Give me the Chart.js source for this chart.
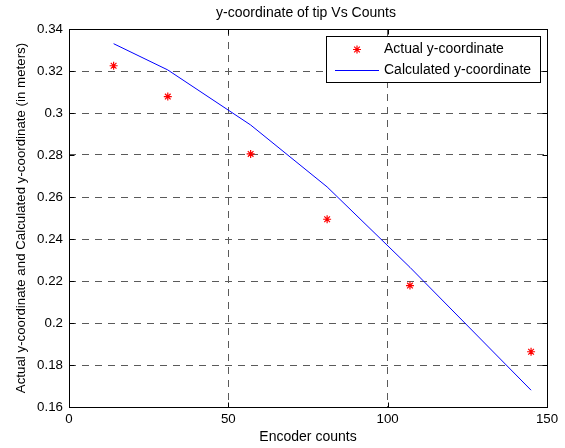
<!DOCTYPE html>
<html>
<head>
<meta charset="utf-8">
<script src="https://cdn.jsdelivr.net/npm/chart.js@4/dist/chart.umd.min.js"></script>
<style>
  html, body { margin: 0; padding: 0; background: #fff; }
  #wrap { width: 565px; height: 448px; }
</style>
</head>
<body>
<div id="wrap"><canvas id="c" width="565" height="448"></canvas></div>
<script>
// ---- data ----
const encoderCounts = [14, 31, 57, 81, 107, 145];
const actualY      = [0.3225, 0.3078, 0.2805, 0.2494, 0.2178, 0.1863];
const calculatedY  = [0.333, 0.3205, 0.2943, 0.2648, 0.2265, 0.168];
const xTickValues  = [0, 50, 100, 150];
const yTickValues  = [0.16, 0.18, 0.2, 0.22, 0.24, 0.26, 0.28, 0.3, 0.32, 0.34];
const titleText    = 'y-coordinate of tip Vs Counts';
const xLabel       = 'Encoder counts';
const yLabel       = 'Actual y-coordinate and Calculated y-coordinate (in meters)';
const seriesNames  = ['Actual y-coordinate', 'Calculated y-coordinate'];

const FONT = 'Liberation Sans, Arial, Helvetica, sans-serif';
const GRID = '#5a5a5a';

const actualPts = encoderCounts.map((x, i) => ({x, y: actualY[i]}));
const calcPts   = encoderCounts.map((x, i) => ({x, y: calculatedY[i]}));

const boxPlugin = {
  id: 'matlabBox',
  afterDatasetsDraw(chart) {
    const {ctx, chartArea: a, scales} = chart;
    ctx.save();
    ctx.strokeStyle = '#000';
    ctx.lineWidth = 1;
    ctx.setLineDash([]);
    const L = Math.round(a.left) + 0.5, R = Math.round(a.right) + 0.5;
    const T = Math.round(a.top) + 0.5, B = Math.round(a.bottom) + 0.5;
    ctx.strokeRect(L, T, R - L, B - T);
    const tl = 5;
    ctx.beginPath();
    xTickValues.forEach(v => {
      const x = Math.round(scales.x.getPixelForValue(v)) + 0.5;
      ctx.moveTo(x, B); ctx.lineTo(x, B - tl);
      ctx.moveTo(x, T); ctx.lineTo(x, T + tl);
    });
    yTickValues.forEach(v => {
      const y = Math.round(scales.y.getPixelForValue(v)) + 0.5;
      ctx.moveTo(L, y); ctx.lineTo(L + tl, y);
      ctx.moveTo(R, y); ctx.lineTo(R - tl, y);
    });
    ctx.stroke();

    // title centred over the plot area
    ctx.fillStyle = '#000';
    ctx.font = '14px ' + FONT;
    ctx.textAlign = 'center';
    ctx.textBaseline = 'middle';
    ctx.fillText(titleText, (a.left + a.right) / 2 - 2, 13);

    // legend box
    const bx = 326.5, by = 36.5, bw = 214, bh = 46;
    ctx.fillStyle = '#fff';
    ctx.fillRect(bx, by, bw, bh);
    ctx.strokeStyle = '#000';
    ctx.strokeRect(bx, by, bw, bh);
    const y1 = 49.5, y2 = 70.5;
    // star marker
    const sx = 357, r = 4;
    ctx.strokeStyle = '#ff0000';
    ctx.lineWidth = 1.2;
    ctx.beginPath();
    ctx.moveTo(sx - r, y1); ctx.lineTo(sx + r, y1);
    ctx.moveTo(sx, y1 - r); ctx.lineTo(sx, y1 + r);
    const d = r * Math.SQRT1_2;
    ctx.moveTo(sx - d, y1 - d); ctx.lineTo(sx + d, y1 + d);
    ctx.moveTo(sx - d, y1 + d); ctx.lineTo(sx + d, y1 - d);
    ctx.stroke();
    // line sample
    ctx.lineWidth = 1;
    ctx.strokeStyle = '#0000ff';
    ctx.beginPath();
    ctx.moveTo(335, y2); ctx.lineTo(379, y2);
    ctx.stroke();
    ctx.fillStyle = '#000';
    ctx.font = '14px ' + FONT;
    ctx.textBaseline = 'middle';
    ctx.textAlign = 'left';
    ctx.fillText(seriesNames[0], 384, y1);
    ctx.fillText(seriesNames[1], 384, y2);
    ctx.restore();
  }
};

new Chart(document.getElementById('c'), {
  type: 'scatter',
  data: {
    datasets: [
      {
        label: seriesNames[0],
        data: actualPts,
        showLine: false,
        pointStyle: 'star',
        radius: 4,
        borderColor: '#ff0000',
        backgroundColor: '#ff0000',
        borderWidth: 1.2,
        order: 1
      },
      {
        label: seriesNames[1],
        data: calcPts,
        showLine: true,
        borderColor: '#0000ff',
        borderWidth: 1,
        pointRadius: 0,
        fill: false,
        tension: 0,
        order: 2
      }
    ]
  },
  options: {
    responsive: false,
    animation: false,
    devicePixelRatio: 1,
    layout: { padding: { left: 0, right: 18, top: 29, bottom: 0 } },
    plugins: {
      legend: { display: false },
      tooltip: { enabled: false },
      title: { display: false }
    },
    scales: {
      x: {
        type: 'linear',
        min: 0, max: 150,
        afterBuildTicks: s => { s.ticks = xTickValues.map(v => ({value: v})); },
        afterFit: s => { s.height = 41; },
        grid: { color: GRID, lineWidth: 1, drawTicks: false },
        border: { display: false, dash: [7, 6] },
        ticks: { color: '#000', padding: 4, font: { family: FONT, size: 13.3 }, maxRotation: 0,
                 callback: v => String(v) },
        title: { display: true, text: xLabel, color: '#000',
                 font: { family: FONT, size: 14 }, padding: { top: 0, bottom: 2.5 } }
      },
      y: {
        type: 'linear',
        min: 0.16, max: 0.34,
        afterBuildTicks: s => { s.ticks = yTickValues.map(v => ({value: v})); },
        afterFit: s => { s.width = 69; },
        grid: { color: GRID, lineWidth: 1, drawTicks: false },
        border: { display: false, dash: [7, 6] },
        ticks: { color: '#000', padding: 6, font: { family: FONT, size: 13.3 },
                 callback: v => String(+v.toFixed(2)) },
        title: { display: true, text: yLabel, color: '#000',
                 font: { family: FONT, size: 13.3 }, padding: { top: 13, bottom: 0 } }
      }
    }
  },
  plugins: [boxPlugin]
});
</script>
</body>
</html>
